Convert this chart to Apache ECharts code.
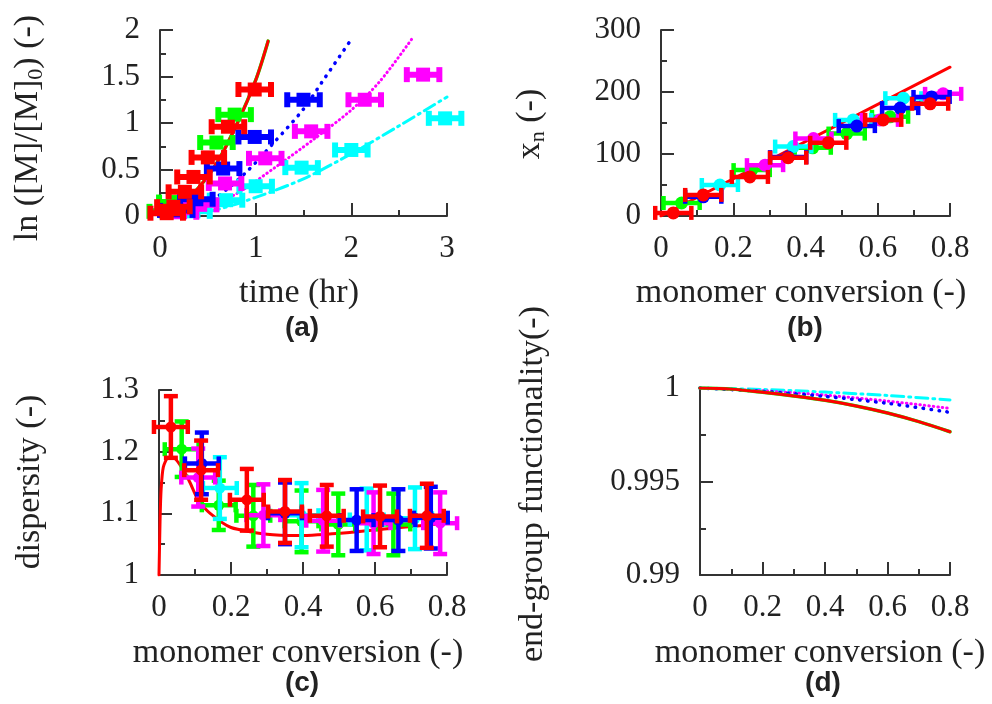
<!DOCTYPE html>
<html>
<head>
<meta charset="utf-8">
<script src="https://cdn.jsdelivr.net/npm/echarts@6/dist/echarts.min.js"></script>
<style>
  html, body { margin: 0; padding: 0; background: #fff; }
  #chart_container { width: 992px; height: 704px; }
</style>
</head>
<body>
<div id="chart_container"></div>
<script>
// four panel figure: kinetics (a), xn (b), dispersity (c), end-group functionality (d)

const SERIF = 'Liberation Serif';
const SANS  = 'Liberation Sans';
const INK   = '#222';
const AXC   = '#333';

const RED = '#ff0000', GREEN = '#00ff00', BLUE = '#0000ff', MAGENTA = '#ff00ff', CYAN = '#00ffff';

// ---- panel (a): ln([M]/[M]0) vs time, points [t, y, xerr]
const aGreen   = [[0.06, 0.05, 0.17], [0.16, 0.15, 0.17], [0.59, 0.79, 0.17], [0.78, 1.09, 0.17]];
const aBlue    = [[0.17, 0.06, 0.17], [0.38, 0.18, 0.17], [0.66, 0.51, 0.17], [0.99, 0.85, 0.17], [1.50, 1.25, 0.17]];
const aMagenta = [[0.21, 0.04, 0.17], [0.42, 0.12, 0.17], [0.68, 0.35, 0.17], [1.10, 0.62, 0.17], [1.58, 0.91, 0.17], [2.14, 1.25, 0.17], [2.75, 1.52, 0.17]];
const aCyan    = [[0.35, 0.05, 0.17], [0.69, 0.17, 0.17], [1.00, 0.32, 0.17], [1.48, 0.52, 0.17], [2.00, 0.71, 0.17], [2.98, 1.05, 0.17]];
const aRed     = [[0.07, 0.03, 0.17], [0.14, 0.10, 0.17], [0.26, 0.26, 0.17], [0.35, 0.42, 0.17], [0.50, 0.63, 0.17], [0.71, 0.96, 0.17], [0.99, 1.36, 0.17]];

// model curves (a)
const aRedFit     = [[0, 0], [0.2, 0.1], [0.4, 0.3], [0.6, 0.58], [0.8, 0.98], [1.0, 1.46], [1.13, 1.88]];
const aBlueFit    = [[0, 0], [0.3, 0.05], [0.6, 0.21], [0.9, 0.47], [1.2, 0.8], [1.5, 1.15], [1.7, 1.45], [2.0, 1.9]];
const aMagentaFit = [[0, 0], [0.4, 0.06], [0.8, 0.24], [1.2, 0.52], [1.6, 0.82], [2.0, 1.14], [2.3, 1.45], [2.63, 1.9]];
const aCyanFit    = [[0, 0], [0.3, 0.02], [0.6, 0.07], [1.0, 0.2], [1.5, 0.4], [2.0, 0.67], [2.5, 0.97], [3.0, 1.28]];

// ---- panel (b): xn vs conversion, points [conv, xn, xerr]
const bGreen   = [[0.057, 21, 0.05], [0.251, 74, 0.05], [0.42, 110, 0.05], [0.514, 133, 0.05], [0.634, 160, 0.05]];
const bCyan    = [[0.163, 50, 0.05], [0.366, 112, 0.05], [0.532, 155, 0.05], [0.671, 190, 0.05]];
const bMagenta = [[0.288, 82, 0.05], [0.422, 125, 0.05], [0.606, 155, 0.05], [0.781, 197, 0.05]];
const bBlue    = [[0.117, 31, 0.05], [0.352, 95, 0.05], [0.542, 145, 0.05], [0.662, 174, 0.05], [0.749, 192, 0.05]];
const bRed     = [[0.034, 5, 0.05], [0.117, 34, 0.05], [0.246, 63, 0.05], [0.352, 94, 0.05], [0.463, 118, 0.05], [0.615, 155, 0.05], [0.745, 181, 0.05]];
const bRedFit  = [[0, 0], [0.8, 240]];

// ---- panel (c): dispersity, points [conv, D, xerr, yerr]
const cGreen   = [[0.063, 1.204, 0.047, 0.045], [0.166, 1.113, 0.047, 0.04], [0.262, 1.096, 0.047, 0.05], [0.396, 1.087, 0.047, 0.05], [0.498, 1.082, 0.047, 0.05], [0.651, 1.082, 0.047, 0.05]];
const cCyan    = [[0.169, 1.141, 0.047, 0.05], [0.396, 1.097, 0.047, 0.052], [0.577, 1.090, 0.047, 0.05], [0.711, 1.092, 0.047, 0.05]];
const cMagenta = [[0.109, 1.158, 0.047, 0.047], [0.290, 1.097, 0.047, 0.05], [0.456, 1.088, 0.047, 0.05], [0.596, 1.084, 0.047, 0.05], [0.781, 1.084, 0.047, 0.05]];
const cBlue    = [[0.119, 1.181, 0.047, 0.05], [0.350, 1.100, 0.047, 0.05], [0.549, 1.089, 0.047, 0.05], [0.665, 1.089, 0.047, 0.05], [0.755, 1.093, 0.047, 0.05]];
const cRed     = [[0.033, 1.240, 0.047, 0.05], [0.117, 1.170, 0.047, 0.048], [0.244, 1.122, 0.047, 0.05], [0.350, 1.103, 0.047, 0.051], [0.466, 1.096, 0.047, 0.05], [0.614, 1.095, 0.047, 0.05], [0.744, 1.096, 0.047, 0.052]];
const cRedFit  = [[0, 1.0], [0.003, 1.09], [0.006, 1.14], [0.012, 1.175], [0.025, 1.19], [0.04, 1.19], [0.068, 1.17], [0.086, 1.15],
                  [0.11, 1.12], [0.142, 1.10], [0.2, 1.077], [0.3, 1.066], [0.39, 1.064], [0.53, 1.069], [0.67, 1.077], [0.8, 1.084]];

// ---- panel (d): end-group functionality, model curves only
const dRed     = [[0, 1], [0.1, 0.99994], [0.2, 0.99977], [0.3, 0.99957], [0.4, 0.99934], [0.5, 0.99904], [0.6, 0.99866], [0.7, 0.99820], [0.8, 0.99766]];
const dBlue    = [[0, 1], [0.2, 0.99982], [0.4, 0.99955], [0.6, 0.99918], [0.8, 0.9987]];
const dMagenta = [[0, 1], [0.2, 0.99985], [0.4, 0.99962], [0.6, 0.9993], [0.8, 0.99891]];
const dCyan    = [[0, 1], [0.2, 0.99992], [0.4, 0.99978], [0.6, 0.9996], [0.8, 0.99936]];


var chartDom = document.getElementById('chart_container');
var myChart = echarts.init(chartDom);

// error bar + marker drawn through the axes' scales
function errRender(color, shape, size, lw, cap) {
    return function (params, api) {
        let x = api.value(0), y = api.value(1);
        let ex = api.value(2) || 0, ey = api.value(3) || 0;
        let c = api.coord([x, y]);
        let kids = [];
        let st = { stroke: color, lineWidth: lw, fill: null };
        if (ex) {
            let l = api.coord([x - ex, y]), r = api.coord([x + ex, y]);
            kids.push({ type: 'line', shape: { x1: l[0], y1: c[1], x2: r[0], y2: c[1] }, style: st });
            kids.push({ type: 'line', shape: { x1: l[0], y1: c[1] - cap / 2, x2: l[0], y2: c[1] + cap / 2 }, style: st });
            kids.push({ type: 'line', shape: { x1: r[0], y1: c[1] - cap / 2, x2: r[0], y2: c[1] + cap / 2 }, style: st });
        }
        if (ey) {
            let t = api.coord([x, y + ey]), b = api.coord([x, y - ey]);
            kids.push({ type: 'line', shape: { x1: c[0], y1: t[1], x2: c[0], y2: b[1] }, style: st });
            kids.push({ type: 'line', shape: { x1: c[0] - cap / 2, y1: t[1], x2: c[0] + cap / 2, y2: t[1] }, style: st });
            kids.push({ type: 'line', shape: { x1: c[0] - cap / 2, y1: b[1], x2: c[0] + cap / 2, y2: b[1] }, style: st });
        }
        if (shape === 'rect') {
            kids.push({ type: 'rect', shape: { x: c[0] - size / 2, y: c[1] - size / 2, width: size, height: size }, style: { fill: color } });
        } else {
            kids.push({ type: 'circle', shape: { cx: c[0], cy: c[1], r: size / 2 }, style: { fill: color } });
        }
        return { type: 'group', children: kids };
    };
}

function pts(idx, data, color, shape, size, lw, cap) {
    return {
        type: 'custom',
        xAxisIndex: idx, yAxisIndex: idx,
        data: data,
        encode: { x: 0, y: 1 },
        renderItem: errRender(color, shape, size, lw, cap),
        z: 3,
        silent: true,
    };
}

function fit(idx, data, color, width, type, smooth) {
    return {
        type: 'line',
        xAxisIndex: idx, yAxisIndex: idx,
        data: data,
        showSymbol: false,
        smooth: smooth,
        lineStyle: { color: color, width: width, type: type, cap: 'round' },
        z: 2,
        silent: true,
    };
}

function xAx(grid, min, max, interval) {
    return {
        gridIndex: grid, type: 'value', min: min, max: max, interval: interval,
        axisLine: { onZero: false, lineStyle: { color: AXC, width: 2 } },
        axisTick: { inside: true, length: 13, lineStyle: { color: AXC, width: 2 } },
        minorTick: { show: true, splitNumber: 2, length: 6, lineStyle: { color: AXC, width: 2 } },
        splitLine: { show: false },
        axisLabel: { margin: 17, fontSize: 31, fontFamily: SERIF, color: INK },
    };
}

function yAx(grid, min, max, interval) {
    let ax = xAx(grid, min, max, interval);
    ax.axisLabel.margin = 20;
    return ax;
}

function ttl(x, y, text, rotate, rich) {
    return {
        type: 'text', x: x, y: y,
        rotation: rotate ? Math.PI / 2 : 0,
        style: {
            text: text,
            fontSize: 34, fontFamily: SERIF, fill: INK,
            align: 'center', verticalAlign: 'middle',
            textAlign: 'center', textVerticalAlign: 'middle',
            rich: rich,
        },
    };
}

function tag(x, y, text) {
    return {
        type: 'text', x: x, y: y,
        style: {
            text: text, fontSize: 28, fontWeight: 'bold', fontFamily: SANS, fill: INK,
            align: 'center', verticalAlign: 'middle',
            textAlign: 'center', textVerticalAlign: 'middle',
        },
    };
}

const subRich = {
    t: { fontSize: 34, fontFamily: SERIF, color: INK },
    s: { fontSize: 22, fontFamily: SERIF, color: INK, padding: [16, 0, 0, 0] },
};

var opt1 = {
    animation: false,
    backgroundColor: '#fff',
    grid: [
        { left: 160, top: 30, width: 287, height: 186 },
        { left: 661, top: 30, width: 289, height: 186 },
        { left: 159, top: 390, width: 288, height: 185 },
        { left: 700, top: 388, width: 250, height: 187 },
    ],
    xAxis: [
        xAx(0, 0, 3, 1),
        xAx(1, 0, 0.8, 0.2),
        xAx(2, 0, 0.8, 0.2),
        xAx(3, 0, 0.8, 0.2),
    ],
    yAxis: [
        yAx(0, 0, 2, 0.5),
        yAx(1, 0, 300, 100),
        yAx(2, 1, 1.3, 0.1),
        yAx(3, 0.99, 1, 0.005),
    ],
    series: [
        // (a)
        fit(0, aRedFit, GREEN, 3.5, 'solid', 0.3),
        fit(0, aRedFit, RED, 3, 'solid', 0.3),
        fit(0, aBlueFit, BLUE, 3.5, [0.5, 7.5], 0.3),
        fit(0, aMagentaFit, MAGENTA, 3, [0.5, 4], 0.3),
        fit(0, aCyanFit, CYAN, 3, [12, 5, 2, 5], 0.3),
        pts(0, aGreen, GREEN, 'rect', 14, 6, 15),
        pts(0, aCyan, CYAN, 'rect', 14, 6, 15),
        pts(0, aMagenta, MAGENTA, 'rect', 14, 6, 15),
        pts(0, aBlue, BLUE, 'rect', 14, 6, 15),
        pts(0, aRed, RED, 'rect', 14, 6, 15),
        // (b)
        pts(1, bGreen, GREEN, 'circle', 13, 4.5, 14),
        pts(1, bCyan, CYAN, 'circle', 13, 4.5, 14),
        pts(1, bMagenta, MAGENTA, 'circle', 13, 4.5, 14),
        pts(1, bBlue, BLUE, 'circle', 13, 4.5, 14),
        pts(1, bRed, RED, 'circle', 13, 4.5, 14),
        fit(1, bRedFit, RED, 3, 'solid', false),
        // (c)
        fit(2, cRedFit, RED, 3, 'solid', 0.2),
        pts(2, cGreen, GREEN, 'circle', 11, 4.5, 14),
        pts(2, cCyan, CYAN, 'circle', 11, 4.5, 14),
        pts(2, cMagenta, MAGENTA, 'circle', 11, 4.5, 14),
        pts(2, cBlue, BLUE, 'circle', 11, 4.5, 14),
        pts(2, cRed, RED, 'circle', 11, 4.5, 14),
        // (d)
        fit(3, dCyan, CYAN, 3, [12, 5, 2, 5], 0.3),
        fit(3, dMagenta, MAGENTA, 3, [0.5, 4], 0.3),
        fit(3, dBlue, BLUE, 3.5, [0.5, 7.5], 0.3),
        fit(3, dRed, GREEN, 3.5, 'solid', 0.3),
        fit(3, dRed, RED, 3, 'solid', 0.3),
    ],
    graphic: [
        ttl(28, 128, '{t|ln ([M]/[M]}{s|0}{t|) (-)}', true, subRich),
        ttl(530, 124, '{t|x}{s|n}{t| (-)}', true, subRich),
        ttl(30, 482, 'dispersity (-)', true),
        ttl(533, 484, 'end-group functionality(-)', true),
        ttl(299, 293, 'time (hr)', false),
        ttl(801, 293, 'monomer conversion (-)', false),
        ttl(298, 653, 'monomer conversion (-)', false),
        ttl(820, 653, 'monomer conversion (-)', false),
        tag(302, 328, '(a)'),
        tag(805, 328, '(b)'),
        tag(302, 683, '(c)'),
        tag(823, 683, '(d)'),
    ],
};

myChart.setOption(opt1);
</script>
</body>
</html>
